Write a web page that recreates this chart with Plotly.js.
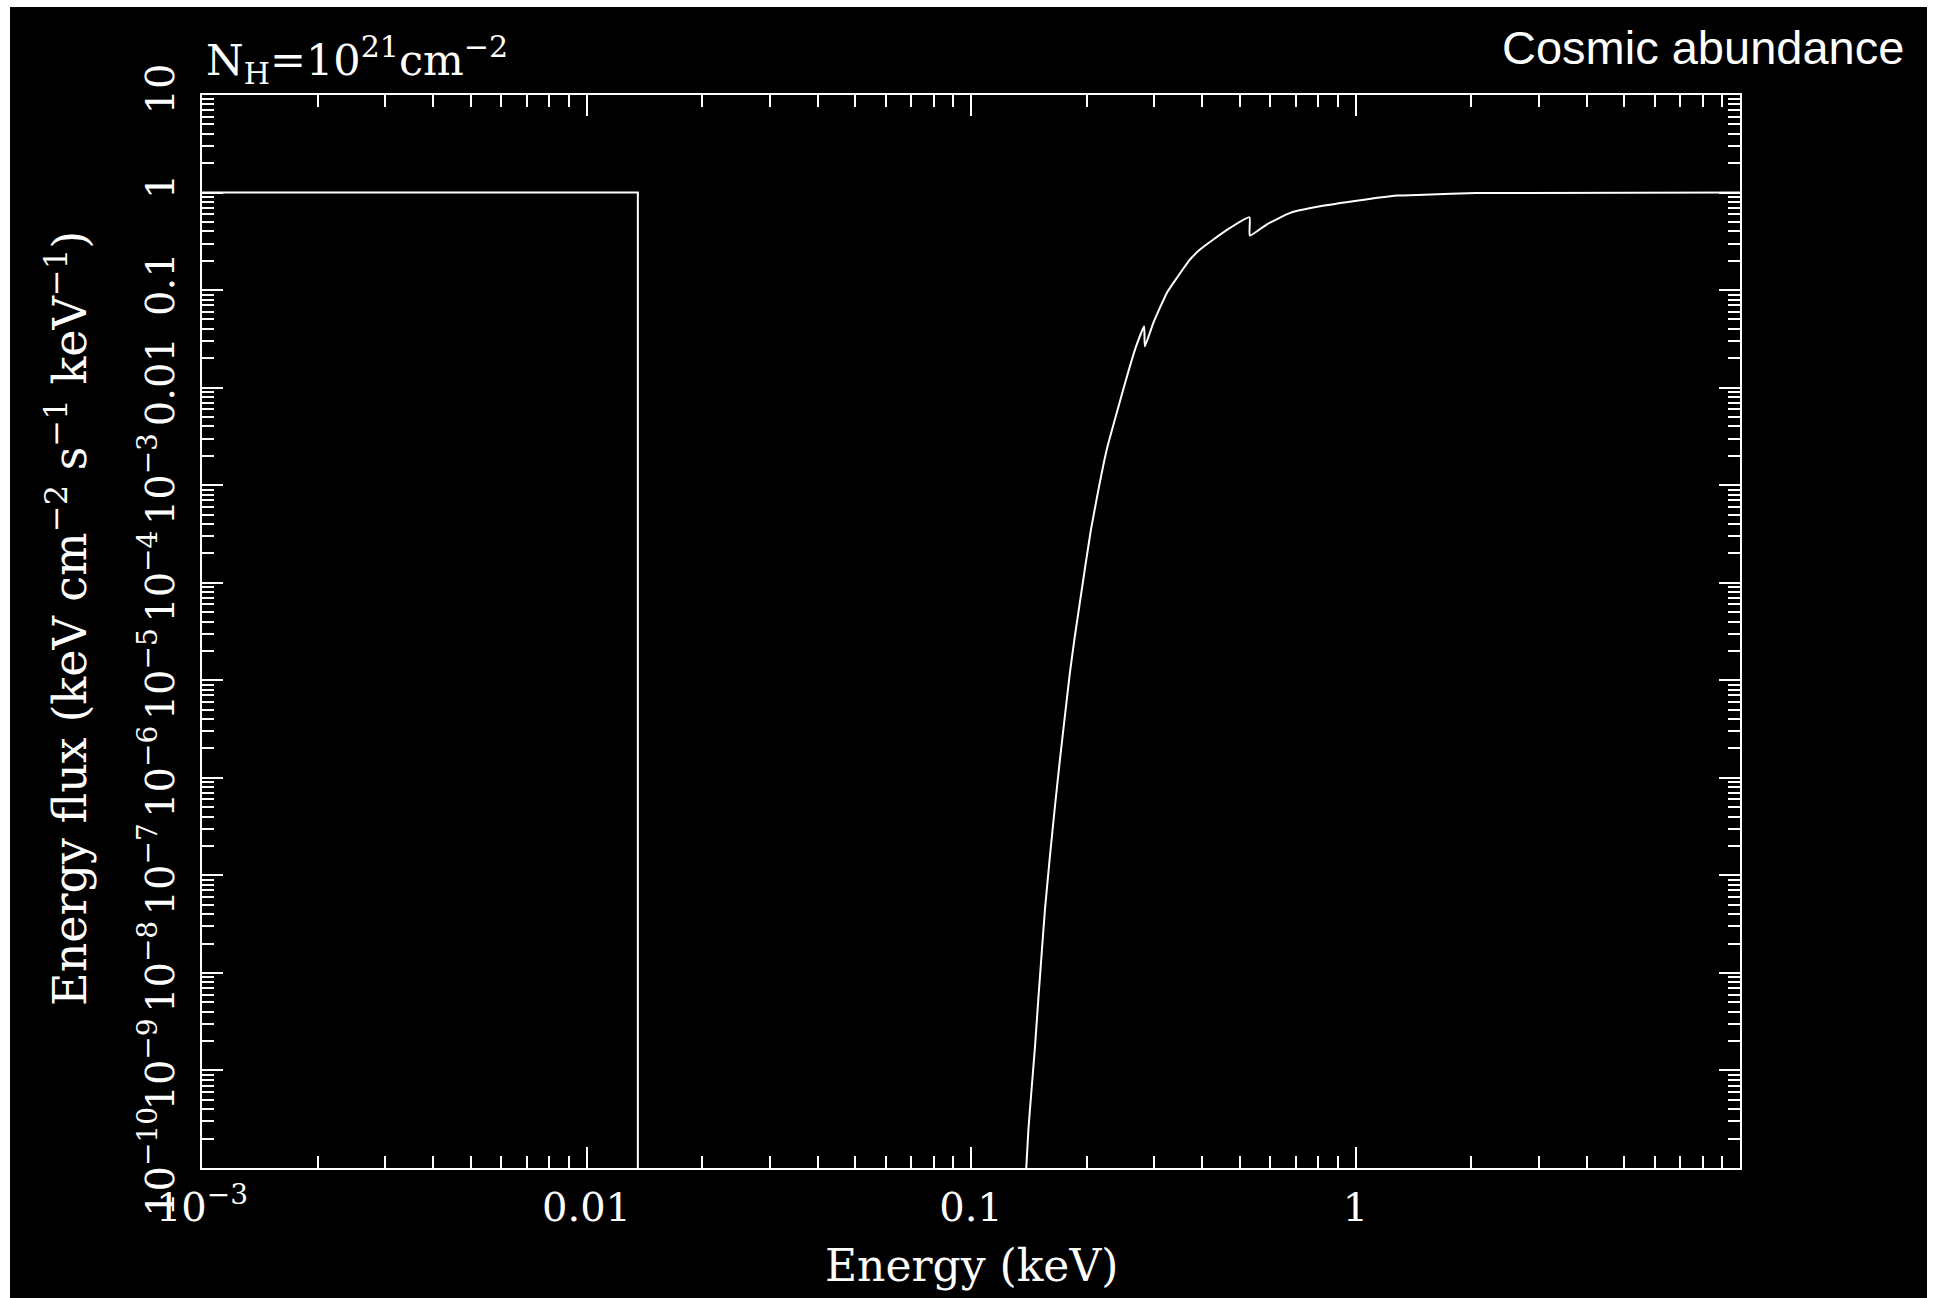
<!DOCTYPE html>
<html>
<head>
<meta charset="utf-8">
<script src="https://cdn.plot.ly/plotly-3.0.1.min.js"></script>
<style>
  html, body { margin: 0; padding: 0; background: #ffffff; width: 1937px; height: 1298px; overflow: hidden; }
  #chart { position: absolute; left: 10px; top: 7px; width: 1917px; height: 1291px; }
</style>
</head>
<body>
<div id="chart"></div>
<script>
// ---- data ----
// transmitted energy flux below the 13.6 eV hydrogen edge
const energyLow = [0.001, 0.0136, 0.0136];
const fluxLow   = [1, 1, 1e-12];

// absorbed spectrum above ~0.14 keV (C edge ~0.28 keV, O edge ~0.53 keV)
const energyHigh = [0.1388, 0.141, 0.1439, 0.1467, 0.1496, 0.1527, 0.1557, 0.1604, 0.1653, 0.1703,
                    0.1766, 0.1808, 0.1862, 0.1924, 0.1982, 0.2051, 0.2153, 0.2254, 0.2393, 0.2531,
                    0.267, 0.282, 0.2832, 0.298, 0.323, 0.343, 0.371, 0.394, 0.427, 0.472,
                    0.530, 0.531, 0.587, 0.676, 0.809, 1.03, 1.28, 1.51, 2.06, 10];
const fluxHigh   = [8e-11, 2.45e-10, 6.8e-10, 1.75e-9, 5.28e-9, 1.59e-8, 4.43e-8, 1.56e-7, 5.08e-7, 1.53e-6,
                    5.38e-6, 1.19e-5, 2.81e-5, 6.70e-5, 1.47e-4, 3.50e-4, 9.72e-4, 2.31e-3, 5.5e-3, 0.0121,
                    0.0245, 0.0425, 0.0265, 0.0461, 0.0936, 0.133, 0.205, 0.260, 0.330, 0.434,
                    0.558, 0.362, 0.470, 0.619, 0.723, 0.834, 0.931, 0.95, 0.99, 1.0];

// tick labels
const xTickVals = [0.001, 0.01, 0.1, 1];
const xTickText = ['10<sup>\u22123</sup>', '0.01', '0.1', '1'];
const yTickVals = [10, 1, 0.1, 0.01, 1e-3, 1e-4, 1e-5, 1e-6, 1e-7, 1e-8, 1e-9, 1e-10];
const yTickText = ['10', '1', '0.1', '0.01', '10<sup>\u22123</sup>', '10<sup>\u22124</sup>', '10<sup>\u22125</sup>',
                   '10<sup>\u22126</sup>', '10<sup>\u22127</sup>', '10<sup>\u22128</sup>', '10<sup>\u22129</sup>', '10<sup>\u221210</sup>'];

const titleText = 'Cosmic abundance';
const columnText = 'N<sub>H</sub>=10<sup>21</sup>cm<sup>\u22122</sup>';
const xTitle = 'Energy (keV)';
const yTitle = 'Energy flux (keV cm<sup>\u22122</sup> s<sup>\u22121</sup> keV<sup>\u22121</sup>)';

// minor tick positions (2..9 in each decade)
function minorTicks(lo, hi) {
  const out = [];
  for (let e = lo; e < hi; e++) {
    for (let m = 2; m <= 9; m++) out.push(m * Math.pow(10, e));
  }
  return out;
}

const W = 'white';
const serif = 'DejaVu Serif, serif';

const traces = [
  { x: energyLow, y: fluxLow, type: 'scatter', mode: 'lines', line: { color: W, width: 2 }, hoverinfo: 'skip' },
  { x: energyHigh, y: fluxHigh, type: 'scatter', mode: 'lines', line: { color: W, width: 2, shape: 'spline', smoothing: 0.4 }, hoverinfo: 'skip' }
];

const axisCommon = {
  type: 'log', showline: true, linecolor: W, linewidth: 2, mirror: 'ticks',
  ticks: 'inside', ticklen: 21, tickwidth: 2, tickcolor: W,
  showgrid: false, zeroline: false, tickmode: 'array'
};

const layout = {
  width: 1917, height: 1291,
  paper_bgcolor: 'black', plot_bgcolor: 'black',
  margin: { l: 192, r: 187, t: 88, b: 130, pad: 0 },
  showlegend: false,
  xaxis: Object.assign({}, axisCommon, {
    range: [-3, 1],
    tickvals: xTickVals, ticktext: xTickText,
    tickfont: { family: serif, size: 40, color: W },
    ticklabelstandoff: 3,
    minor: { ticks: 'inside', ticklen: 12, tickwidth: 2, tickcolor: W, tickvals: minorTicks(-3, 1), showgrid: false }
  }),
  yaxis: Object.assign({}, axisCommon, {
    range: [-10, 1],
    tickvals: yTickVals, ticktext: yTickText,
    tickangle: -90,
    tickfont: { family: serif, size: 40, color: W },
    ticklabelstandoff: 10,
    minor: { ticks: 'inside', ticklen: 12, tickwidth: 2, tickcolor: W, tickvals: minorTicks(-10, 1), showgrid: false }
  }),
  annotations: [
    { text: titleText, xref: 'paper', yref: 'paper', x: 1.1079, y: 1.0445, xanchor: 'right', yanchor: 'middle',
      showarrow: false, font: { family: 'Liberation Sans, Arial, sans-serif', size: 47, color: W } },
    { text: columnText, xref: 'paper', yref: 'paper', x: 0.0013, y: 1.0326, xanchor: 'left', yanchor: 'middle',
      showarrow: false, font: { family: serif, size: 43, color: W } },
    { text: xTitle, xref: 'paper', yref: 'paper', x: 0.5, y: -0.0905, xanchor: 'center', yanchor: 'middle',
      showarrow: false, font: { family: serif, size: 44, color: W } },
    { text: yTitle, xref: 'paper', yref: 'paper', x: -0.0878, y: 0.5126, xanchor: 'center', yanchor: 'middle',
      textangle: -90, showarrow: false, font: { family: serif, size: 46, color: W } }
  ]
};

Plotly.newPlot('chart', traces, layout, { displayModeBar: false, staticPlot: true });
</script>
</body>
</html>
